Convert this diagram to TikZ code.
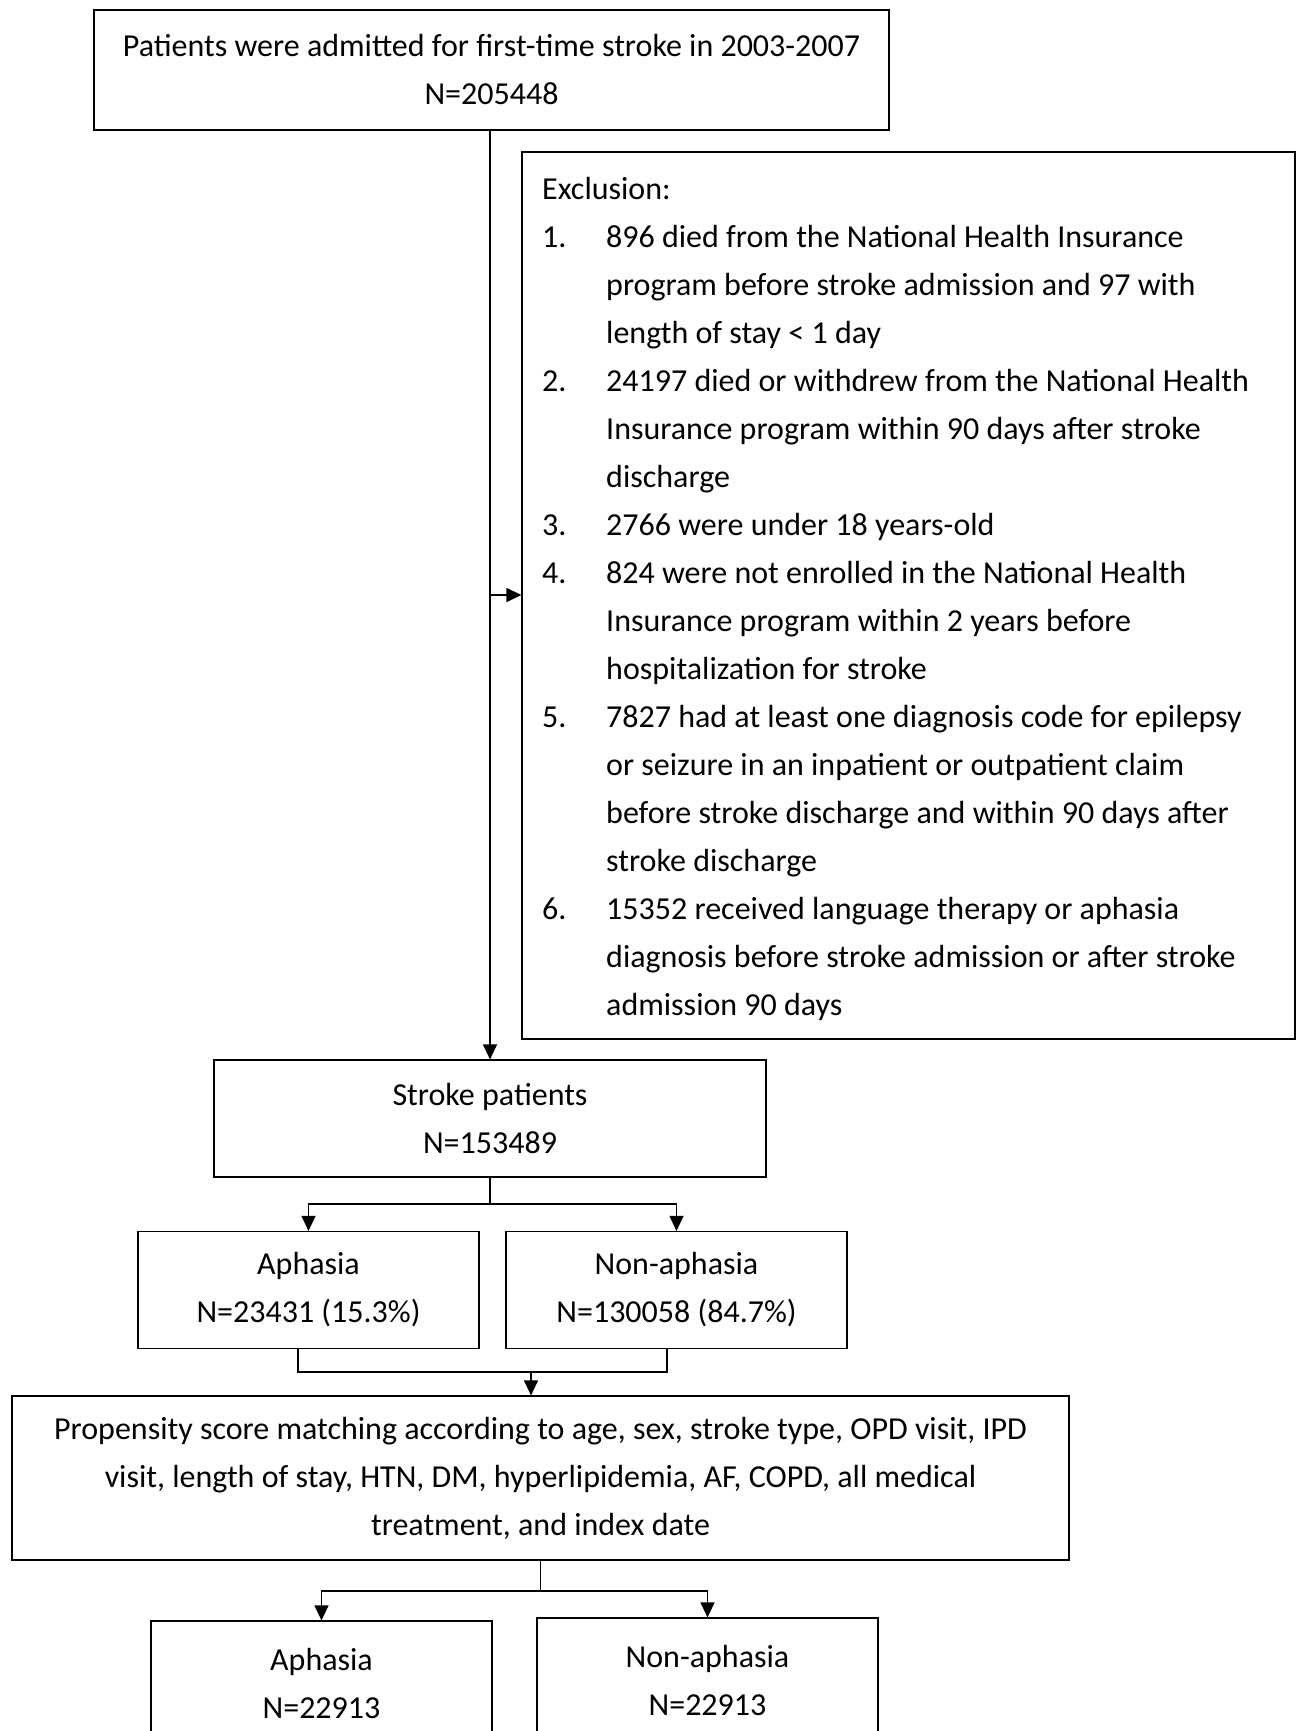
\documentclass[tikz,border=0pt]{standalone}
\usepackage{fontspec}
\setmainfont{Carlito}
\usetikzlibrary{arrows.meta}
\begin{document}
\begin{tikzpicture}[x=1pt,y=-1pt,
  box/.style={draw, line width=1.2pt, align=center, inner sep=0pt,
    font=\fontsize{32}{48}\selectfont},
  conn/.style={line width=1.2pt},
  arr/.style={line width=1.2pt, -{Triangle[length=15pt,width=14pt]}}]
\clip (0,0) rectangle (1302,1731);
\fill[white] (0,0) rectangle (1302,1731);
% boxes
\node[box, minimum width=795, minimum height=120] (top) at (491.5,70) {Patients were admitted for first-time stroke in 2003-2007\\N=205448};
\node[box, minimum width=773, minimum height=887] (excl) at (908.5,595.5) {};
\node[anchor=north west, inner sep=0pt, font=\fontsize{32}{48}\selectfont] (excltext) at (542,166) {%
\begin{tabular}{@{}p{64pt}@{}l@{}}
\multicolumn{2}{@{}l@{}}{Exclusion:}\\
1. & 896 died from the National Health Insurance\\
   & program before stroke admission and 97 with\\
   & length of stay < 1 day\\
2. & 24197 died or withdrew from the National Health\\
   & Insurance program within 90 days after stroke\\
   & discharge\\
3. & 2766 were under 18 years-old\\
4. & 824 were not enrolled in the National Health\\
   & Insurance program within 2 years before\\
   & hospitalization for stroke\\
5. & 7827 had at least one diagnosis code for epilepsy\\
   & or seizure in an inpatient or outpatient claim\\
   & before stroke discharge and within 90 days after\\
   & stroke discharge\\
6. & 15352 received language therapy or aphasia\\
   & diagnosis before stroke admission or after stroke\\
   & admission 90 days
\end{tabular}};
\node[box, minimum width=552, minimum height=117] (stroke) at (490,1118.5) {Stroke patients\\N=153489};
\node[box, minimum width=341, minimum height=117] (aph) at (308.5,1290) {Aphasia\\N=23431 (15.3\%)};
\node[box, minimum width=341, minimum height=117] (non) at (676.5,1290) {Non-aphasia\\N=130058 (84.7\%)};
\node[box, minimum width=1057, minimum height=164] (psm) at (540.5,1478) {Propensity score matching according to age, sex, stroke type, OPD visit, IPD\\visit, length of stay, HTN, DM, hyperlipidemia, AF, COPD, all medical\\treatment, and index date};
\node[box, minimum width=341, minimum height=124] (aph2) at (321.5,1683) {Aphasia\\N=22913};
\node[box, minimum width=341, minimum height=124] (non2) at (707.5,1680) {Non-aphasia\\N=22913};
% connectors
\coordinate (trunk) at (490,595);
\draw[conn] (top.south -| trunk) -- (trunk);
\draw[arr] (trunk) -- (trunk -| excl.west);
\draw[arr] (trunk) -- (trunk |- stroke.north);
\coordinate (split1) at (490,1204);
\draw[conn] (stroke.south) -- (split1);
\draw[arr] (split1) -| (aph.north);
\draw[arr] (split1) -| (non.north);
\coordinate (ml) at (298,1372);
\coordinate (mr) at (667,1372);
\coordinate (mm) at (531,1372);
\draw[conn] (ml |- aph.south) -- (ml) -- (mr) -- (mr |- non.south);
\draw[arr] (mm) -- (mm |- psm.north);
\coordinate (split2) at (540.5,1591);
\draw[conn] (psm.south) -- (split2);
\draw[arr] (split2) -| (aph2.north);
\draw[arr] (split2) -| (non2.north);
\end{tikzpicture}
\end{document}
